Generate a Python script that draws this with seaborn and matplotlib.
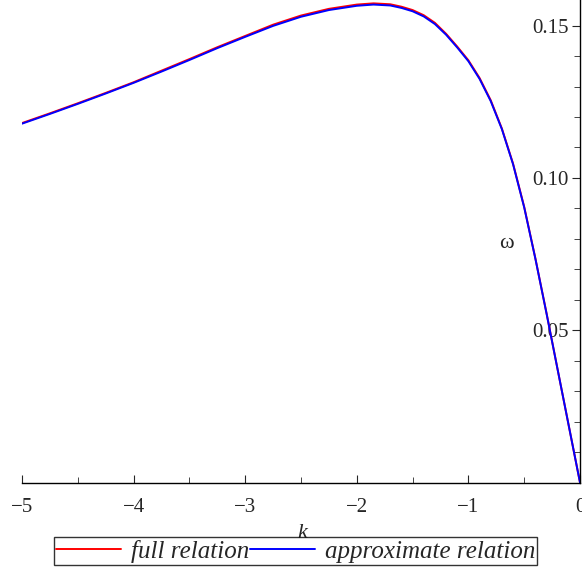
import numpy as np
import pandas as pd
import matplotlib
matplotlib.use('Agg')
import matplotlib.pyplot as plt
import seaborn as sns
from matplotlib.ticker import MultipleLocator

# values
k_vals = [-5.0, -4.75, -4.5, -4.25, -4.0, -3.75, -3.5, -3.25, -3.0, -2.75, -2.5, -2.25,
          -2.0, -1.85, -1.7, -1.6, -1.5, -1.4, -1.3, -1.2, -1.1, -1.0, -0.9, -0.8,
          -0.7, -0.6, -0.5, -0.4, -0.3, -0.2, -0.1, 0.0]

omega_approx = [0.1178, 0.1210, 0.1243, 0.1277, 0.1312, 0.1349, 0.1387, 0.1426, 0.1463, 0.1499,
                0.1529, 0.1551, 0.1565, 0.1569, 0.1566, 0.1558, 0.1547, 0.1530, 0.1505, 0.1470,
                0.1428, 0.1383, 0.1325, 0.1252, 0.1160, 0.1045, 0.0903, 0.0735, 0.0555, 0.0370,
                0.0185, 0.0]

omega_full = [0.1180, 0.1212, 0.1245, 0.1279, 0.1314, 0.1352, 0.1390, 0.1429, 0.1466, 0.1503,
              0.1533, 0.1555, 0.1569, 0.1573, 0.1570, 0.1562, 0.1551, 0.1534, 0.1509, 0.1473,
              0.1431, 0.1386, 0.1328, 0.1255, 0.1162, 0.1047, 0.0905, 0.0736, 0.0556, 0.0370,
              0.0185, 0.0]

df = pd.DataFrame({'k': k_vals, 'full': omega_full, 'approx': omega_approx})

sns.set_style('white')
plt.rcParams['font.family'] = ['Liberation Serif', 'DejaVu Serif']

fig = plt.figure(figsize=(5.82, 5.73), dpi=100)
ax = fig.add_axes([22/582, 1 - 482.5/573, 558/582, 482.5/573])

sns.lineplot(data=df, x='k', y='full', color='red', lw=1.4, ax=ax, label='full relation')
sns.lineplot(data=df, x='k', y='approx', color='blue', lw=1.4, ax=ax, label='approximate relation')

ax.set_xlim(-5, 0)
ax.set_ylim(0, 0.1584)

# y axis sits at k = 0 (right edge), ticks and labels on its left
ax.spines['left'].set_position(('axes', 1.0))
ax.spines['right'].set_visible(False)
ax.spines['top'].set_visible(False)
for s in ['left', 'bottom']:
    ax.spines[s].set_color('black')
    ax.spines[s].set_linewidth(1.0)

ax.xaxis.set_major_locator(MultipleLocator(1))
ax.xaxis.set_minor_locator(MultipleLocator(0.5))
ax.set_yticks([0.05, 0.10, 0.15])
ax.set_yticklabels(['0.05', '0.10', '0.15'])
ax.yaxis.set_minor_locator(MultipleLocator(0.01))

ax.tick_params(axis='x', which='both', direction='in', bottom=True, labelsize=15, pad=11)
ax.tick_params(axis='x', which='major', length=6)
ax.tick_params(axis='x', which='minor', length=4)
ax.tick_params(axis='y', which='both', direction='out', left=True, labelsize=15, pad=2)
ax.tick_params(axis='y', which='major', length=6)
ax.tick_params(axis='y', which='minor', length=4)

ax.set_xlabel('k', fontsize=16, style='italic')
ax.xaxis.set_label_coords(0.502, -0.085)
ax.set_ylabel('ω', fontsize=16, rotation=0)
ax.yaxis.set_label_coords(0.869, 0.475)

ax.get_legend().remove()
h, l = ax.get_legend_handles_labels()
leg = fig.legend(h, l, loc='center', bbox_to_anchor=(0.508, 0.038), ncol=2,
                 prop={'style': 'italic', 'size': 18}, frameon=True, fancybox=False,
                 handlelength=2.6, handletextpad=0.4, columnspacing=0.0,
                 borderpad=0.1, borderaxespad=0)
leg.get_frame().set_edgecolor('black')
leg.get_frame().set_linewidth(1.0)

fig.savefig('out.png', dpi=100)
